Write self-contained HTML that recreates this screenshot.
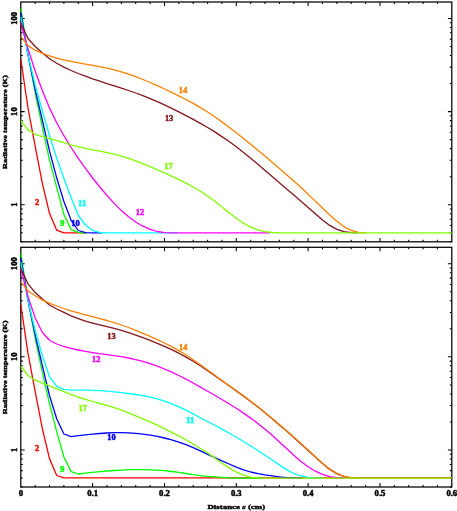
<!DOCTYPE html>
<html><head><meta charset="utf-8"><title>Radiative temperature</title>
<style>html,body{margin:0;padding:0;background:#fff;}svg{display:block;}text{font-family:"Liberation Serif",serif;font-weight:bold;}</style></head><body>
<svg width="457" height="511" viewBox="0 0 457 511">
<rect width="457" height="511" fill="#fff"/>
<defs><clipPath id="c1"><rect x="20.18" y="1.38" width="432.25" height="241.05"/></clipPath><clipPath id="c2"><rect x="20.18" y="246.68" width="432.25" height="240.95"/></clipPath></defs>
<rect x="20.8" y="2.0" width="431.0" height="239.8" fill="none" stroke="#000" stroke-width="1.25"/>
<rect x="20.8" y="247.3" width="431.0" height="239.7" fill="none" stroke="#000" stroke-width="1.25"/>
<path d="M35.2 241.8 v-2.0 M35.2 2.0 v2.0 M49.5 241.8 v-2.0 M49.5 2.0 v2.0 M63.9 241.8 v-2.0 M63.9 2.0 v2.0 M78.3 241.8 v-2.0 M78.3 2.0 v2.0 M92.6 241.8 v-3.9 M92.6 2.0 v3.9 M107.0 241.8 v-2.0 M107.0 2.0 v2.0 M121.4 241.8 v-2.0 M121.4 2.0 v2.0 M135.7 241.8 v-2.0 M135.7 2.0 v2.0 M150.1 241.8 v-2.0 M150.1 2.0 v2.0 M164.5 241.8 v-3.9 M164.5 2.0 v3.9 M178.8 241.8 v-2.0 M178.8 2.0 v2.0 M193.2 241.8 v-2.0 M193.2 2.0 v2.0 M207.6 241.8 v-2.0 M207.6 2.0 v2.0 M221.9 241.8 v-2.0 M221.9 2.0 v2.0 M236.3 241.8 v-3.9 M236.3 2.0 v3.9 M250.7 241.8 v-2.0 M250.7 2.0 v2.0 M265.0 241.8 v-2.0 M265.0 2.0 v2.0 M279.4 241.8 v-2.0 M279.4 2.0 v2.0 M293.8 241.8 v-2.0 M293.8 2.0 v2.0 M308.1 241.8 v-3.9 M308.1 2.0 v3.9 M322.5 241.8 v-2.0 M322.5 2.0 v2.0 M336.9 241.8 v-2.0 M336.9 2.0 v2.0 M351.2 241.8 v-2.0 M351.2 2.0 v2.0 M365.6 241.8 v-2.0 M365.6 2.0 v2.0 M380.0 241.8 v-3.9 M380.0 2.0 v3.9 M394.3 241.8 v-2.0 M394.3 2.0 v2.0 M408.7 241.8 v-2.0 M408.7 2.0 v2.0 M423.1 241.8 v-2.0 M423.1 2.0 v2.0 M437.4 241.8 v-2.0 M437.4 2.0 v2.0 M20.8 241.8 h2.0 M451.8 241.8 h-2.0 M20.8 232.8 h2.0 M451.8 232.8 h-2.0 M20.8 225.4 h2.0 M451.8 225.4 h-2.0 M20.8 219.2 h2.0 M451.8 219.2 h-2.0 M20.8 213.8 h2.0 M451.8 213.8 h-2.0 M20.8 209.0 h2.0 M451.8 209.0 h-2.0 M20.8 204.7 h3.9 M451.8 204.7 h-3.9 M20.8 176.7 h2.0 M451.8 176.7 h-2.0 M20.8 160.3 h2.0 M451.8 160.3 h-2.0 M20.8 148.6 h2.0 M451.8 148.6 h-2.0 M20.8 139.6 h2.0 M451.8 139.6 h-2.0 M20.8 132.2 h2.0 M451.8 132.2 h-2.0 M20.8 126.0 h2.0 M451.8 126.0 h-2.0 M20.8 120.6 h2.0 M451.8 120.6 h-2.0 M20.8 115.8 h2.0 M451.8 115.8 h-2.0 M20.8 111.6 h3.9 M451.8 111.6 h-3.9 M20.8 83.5 h2.0 M451.8 83.5 h-2.0 M20.8 67.1 h2.0 M451.8 67.1 h-2.0 M20.8 55.5 h2.0 M451.8 55.5 h-2.0 M20.8 46.4 h2.0 M451.8 46.4 h-2.0 M20.8 39.1 h2.0 M451.8 39.1 h-2.0 M20.8 32.8 h2.0 M451.8 32.8 h-2.0 M20.8 27.4 h2.0 M451.8 27.4 h-2.0 M20.8 22.7 h2.0 M451.8 22.7 h-2.0 M20.8 18.4 h3.9 M451.8 18.4 h-3.9 M35.2 487.0 v-2.0 M35.2 247.3 v2.0 M49.5 487.0 v-2.0 M49.5 247.3 v2.0 M63.9 487.0 v-2.0 M63.9 247.3 v2.0 M78.3 487.0 v-2.0 M78.3 247.3 v2.0 M92.6 487.0 v-3.9 M92.6 247.3 v3.9 M107.0 487.0 v-2.0 M107.0 247.3 v2.0 M121.4 487.0 v-2.0 M121.4 247.3 v2.0 M135.7 487.0 v-2.0 M135.7 247.3 v2.0 M150.1 487.0 v-2.0 M150.1 247.3 v2.0 M164.5 487.0 v-3.9 M164.5 247.3 v3.9 M178.8 487.0 v-2.0 M178.8 247.3 v2.0 M193.2 487.0 v-2.0 M193.2 247.3 v2.0 M207.6 487.0 v-2.0 M207.6 247.3 v2.0 M221.9 487.0 v-2.0 M221.9 247.3 v2.0 M236.3 487.0 v-3.9 M236.3 247.3 v3.9 M250.7 487.0 v-2.0 M250.7 247.3 v2.0 M265.0 487.0 v-2.0 M265.0 247.3 v2.0 M279.4 487.0 v-2.0 M279.4 247.3 v2.0 M293.8 487.0 v-2.0 M293.8 247.3 v2.0 M308.1 487.0 v-3.9 M308.1 247.3 v3.9 M322.5 487.0 v-2.0 M322.5 247.3 v2.0 M336.9 487.0 v-2.0 M336.9 247.3 v2.0 M351.2 487.0 v-2.0 M351.2 247.3 v2.0 M365.6 487.0 v-2.0 M365.6 247.3 v2.0 M380.0 487.0 v-3.9 M380.0 247.3 v3.9 M394.3 487.0 v-2.0 M394.3 247.3 v2.0 M408.7 487.0 v-2.0 M408.7 247.3 v2.0 M423.1 487.0 v-2.0 M423.1 247.3 v2.0 M437.4 487.0 v-2.0 M437.4 247.3 v2.0 M20.8 487.0 h2.0 M451.8 487.0 h-2.0 M20.8 478.0 h2.0 M451.8 478.0 h-2.0 M20.8 470.6 h2.0 M451.8 470.6 h-2.0 M20.8 464.4 h2.0 M451.8 464.4 h-2.0 M20.8 459.0 h2.0 M451.8 459.0 h-2.0 M20.8 454.2 h2.0 M451.8 454.2 h-2.0 M20.8 449.9 h3.9 M451.8 449.9 h-3.9 M20.8 421.9 h2.0 M451.8 421.9 h-2.0 M20.8 405.5 h2.0 M451.8 405.5 h-2.0 M20.8 393.9 h2.0 M451.8 393.9 h-2.0 M20.8 384.9 h2.0 M451.8 384.9 h-2.0 M20.8 377.5 h2.0 M451.8 377.5 h-2.0 M20.8 371.2 h2.0 M451.8 371.2 h-2.0 M20.8 365.8 h2.0 M451.8 365.8 h-2.0 M20.8 361.1 h2.0 M451.8 361.1 h-2.0 M20.8 356.8 h3.9 M451.8 356.8 h-3.9 M20.8 328.8 h2.0 M451.8 328.8 h-2.0 M20.8 312.4 h2.0 M451.8 312.4 h-2.0 M20.8 300.8 h2.0 M451.8 300.8 h-2.0 M20.8 291.7 h2.0 M451.8 291.7 h-2.0 M20.8 284.4 h2.0 M451.8 284.4 h-2.0 M20.8 278.1 h2.0 M451.8 278.1 h-2.0 M20.8 272.7 h2.0 M451.8 272.7 h-2.0 M20.8 268.0 h2.0 M451.8 268.0 h-2.0 M20.8 263.7 h3.9 M451.8 263.7 h-3.9" stroke="#000" stroke-width="1.05" fill="none"/>
<g clip-path="url(#c1)" fill="none" stroke-width="1.30" stroke-linejoin="round">
<path d="M20.8 59.3 L28.0 108.0 L35.2 146.3 L42.4 183.6 L49.5 213.3 L56.7 230.2 L63.9 232.8 L71.1 232.9 L78.3 232.8 L85.5 232.9 L80.0 232.9" stroke="#ff0000"/>
<path d="M20.8 8.3 L28.0 54.0 L35.2 93.0 L42.4 127.4 L49.5 159.8 L56.7 187.3 L63.9 214.5 L71.1 229.6 L78.3 232.3 L85.5 232.9 L87.0 232.9" stroke="#00ff00"/>
<path d="M20.8 12.3 L28.0 55.0 L35.2 89.6 L42.4 120.6 L49.5 150.8 L56.7 177.8 L63.9 201.5 L71.1 220.3 L78.3 230.5 L85.5 232.6 L92.6 232.9 L102.0 232.9" stroke="#0000ff"/>
<path d="M20.8 16.8 L28.0 55.0 L35.2 85.0 L42.4 111.5 L49.5 135.5 L56.7 158.0 L63.9 178.5 L71.1 197.5 L78.3 215.5 L85.5 225.0 L92.6 230.4 L99.8 232.5 L107.0 232.9 L178.0 232.9" stroke="#00ffff"/>
<path d="M20.8 23.0 L28.0 48.6 L35.2 71.2 L42.4 90.8 L49.5 107.9 L56.7 122.7 L63.9 135.7 L71.1 147.5 L78.3 158.3 L85.5 168.4 L92.6 178.0 L99.8 187.0 L107.0 195.5 L114.2 203.4 L121.4 210.6 L128.6 216.8 L135.7 222.0 L142.9 226.2 L150.1 229.4 L157.3 231.5 L164.5 232.6 L171.7 232.9 L270.0 232.9" stroke="#ff00ff"/>
<path d="M20.8 23.0 L28.0 38.5 L35.2 46.5 L42.4 53.0 L49.5 58.7 L56.7 63.3 L63.9 67.1 L71.1 70.5 L78.3 73.5 L85.5 76.2 L92.6 78.8 L99.8 81.2 L107.0 83.6 L114.2 85.8 L121.4 88.1 L128.6 90.5 L135.7 93.0 L142.9 95.7 L150.1 98.6 L157.3 101.7 L164.5 104.9 L171.7 108.4 L178.8 111.9 L186.0 115.6 L193.2 119.4 L200.4 123.4 L207.6 127.5 L214.8 131.9 L221.9 136.6 L229.1 141.5 L236.3 146.8 L243.5 152.4 L250.7 158.2 L257.9 164.2 L265.0 170.4 L272.2 176.6 L279.4 182.8 L286.6 189.0 L293.8 195.1 L301.0 201.2 L308.1 207.4 L315.3 213.7 L322.5 220.0 L329.7 225.4 L336.9 229.4 L344.1 231.7 L351.2 232.7 L358.4 232.9" stroke="#85151d"/>
<path d="M20.8 36.3 L28.0 45.6 L35.2 50.2 L42.4 53.3 L49.5 55.8 L56.7 58.1 L63.9 59.9 L71.1 61.4 L78.3 62.8 L85.5 64.1 L92.6 65.3 L99.8 66.6 L107.0 68.1 L114.2 69.8 L121.4 71.8 L128.6 74.1 L135.7 76.7 L142.9 79.5 L150.1 82.5 L157.3 85.7 L164.5 89.0 L171.7 92.3 L178.8 95.8 L186.0 99.5 L193.2 103.4 L200.4 107.6 L207.6 112.0 L214.8 116.8 L221.9 121.9 L229.1 127.2 L236.3 132.8 L243.5 138.5 L250.7 144.3 L257.9 150.2 L265.0 156.1 L272.2 162.2 L279.4 168.4 L286.6 174.7 L293.8 181.1 L301.0 187.6 L308.1 194.3 L315.3 201.1 L322.5 208.0 L329.7 214.9 L336.9 221.3 L344.1 226.8 L351.2 230.4 L358.4 232.3 L365.6 232.9" stroke="#ff8000"/>
<path d="M20.8 120.4 L28.0 129.9 L35.2 134.3 L42.4 136.7 L49.5 138.6 L56.7 140.6 L63.9 142.7 L71.1 144.8 L78.3 146.7 L85.5 148.4 L92.6 149.8 L99.8 151.2 L107.0 152.6 L114.2 154.2 L121.4 156.1 L128.6 158.3 L135.7 160.9 L142.9 163.7 L150.1 166.7 L157.3 169.8 L164.5 172.9 L171.7 176.2 L178.8 179.6 L186.0 183.1 L193.2 187.0 L200.4 191.2 L207.6 196.0 L214.8 201.3 L221.9 206.9 L229.1 212.7 L236.3 218.3 L243.5 223.2 L250.7 227.1 L257.9 229.9 L265.0 231.6 L272.2 232.5 L279.4 232.9 L451.8 232.9" stroke="#80ff00"/>
</g>
<g clip-path="url(#c2)" fill="none" stroke-width="1.30" stroke-linejoin="round">
<path d="M20.8 304.6 L28.0 353.3 L35.2 391.6 L42.4 428.9 L49.5 458.6 L56.7 475.5 L63.9 477.9 L451.8 477.9" stroke="#ff0000"/>
<path d="M20.8 253.4 L28.0 299.3 L35.2 338.3 L42.4 372.7 L49.5 403.5 L56.7 431.6 L63.9 457.0 L71.1 471.6 L78.3 474.0 L85.5 473.2 L92.6 472.4 L99.8 471.7 L107.0 471.0 L114.2 470.5 L121.4 470.1 L128.6 469.7 L135.7 469.6 L142.9 469.6 L150.1 469.8 L157.3 470.1 L164.5 470.7 L171.7 471.5 L178.8 472.4 L186.0 473.5 L193.2 474.6 L200.4 475.6 L207.6 476.3 L214.8 476.9 L221.9 477.4 L229.1 477.9 L236.3 478.1 L243.5 478.2 L262.0 478.2" stroke="#00ff00"/>
<path d="M20.8 257.6 L28.0 300.3 L35.2 334.9 L42.4 365.9 L49.5 395.5 L56.7 418.8 L63.9 434.0 L71.1 436.7 L78.3 435.6 L85.5 434.8 L92.6 434.1 L99.8 433.5 L107.0 433.0 L114.2 432.7 L121.4 432.6 L128.6 432.8 L135.7 433.4 L142.9 434.1 L150.1 435.1 L157.3 436.4 L164.5 438.0 L171.7 439.9 L178.8 442.1 L186.0 444.6 L193.2 447.6 L200.4 450.9 L207.6 454.4 L214.8 457.6 L221.9 460.8 L229.1 464.0 L236.3 467.1 L243.5 469.9 L250.7 472.0 L257.9 473.6 L265.0 474.8 L272.2 475.8 L279.4 476.9 L286.6 477.7 L293.8 478.1 L301.0 478.2" stroke="#0000ff"/>
<path d="M20.8 262.0 L28.0 300.5 L35.2 330.5 L42.4 356.0 L49.5 376.8 L56.7 386.4 L63.9 389.4 L71.1 390.2 L78.3 390.2 L85.5 390.2 L92.6 390.4 L99.8 390.7 L107.0 391.2 L114.2 391.8 L121.4 392.6 L128.6 393.5 L135.7 394.5 L142.9 395.7 L150.1 397.1 L157.3 398.9 L164.5 401.1 L171.7 403.8 L178.8 406.8 L186.0 410.2 L193.2 413.9 L200.4 417.7 L207.6 421.5 L214.8 425.3 L221.9 429.1 L229.1 433.0 L236.3 437.2 L243.5 441.5 L250.7 446.0 L257.9 450.5 L265.0 455.2 L272.2 460.0 L279.4 464.9 L286.6 469.6 L293.8 473.5 L301.0 476.0 L308.1 477.5 L315.3 478.1 L322.5 478.2" stroke="#00ffff"/>
<path d="M20.8 268.5 L28.0 296.6 L35.2 318.0 L42.4 332.5 L49.5 340.2 L56.7 344.0 L63.9 346.5 L71.1 348.4 L78.3 350.0 L85.5 351.4 L92.6 352.6 L99.8 353.7 L107.0 354.6 L114.2 355.6 L121.4 356.6 L128.6 358.0 L135.7 359.6 L142.9 361.4 L150.1 363.6 L157.3 366.2 L164.5 369.0 L171.7 372.2 L178.8 375.5 L186.0 379.1 L193.2 383.0 L200.4 387.1 L207.6 391.2 L214.8 395.3 L221.9 399.5 L229.1 403.8 L236.3 408.3 L243.5 413.1 L250.7 418.1 L257.9 423.4 L265.0 429.2 L272.2 435.3 L279.4 441.9 L286.6 448.6 L293.8 455.2 L301.0 461.4 L308.1 466.8 L315.3 471.2 L322.5 474.4 L329.7 476.6 L336.9 477.7 L344.1 478.2" stroke="#ff00ff"/>
<path d="M20.8 268.6 L28.0 283.9 L35.2 292.6 L42.4 299.0 L49.5 305.0 L56.7 309.0 L63.9 312.4 L71.1 315.8 L78.3 318.7 L85.5 321.2 L92.6 323.1 L99.8 324.9 L107.0 326.6 L114.2 328.4 L121.4 330.4 L128.6 332.6 L135.7 335.1 L142.9 337.7 L150.1 340.4 L157.3 343.3 L164.5 346.4 L171.7 349.7 L178.8 353.2 L186.0 357.1 L193.2 361.3 L200.4 365.8 L207.6 370.6 L214.8 375.6 L221.9 380.7 L229.1 385.8 L236.3 390.9 L243.5 396.1 L250.7 401.5 L257.9 407.0 L265.0 412.8 L272.2 418.8 L279.4 424.9 L286.6 431.1 L293.8 437.4 L301.0 443.9 L308.1 450.5 L315.3 457.1 L322.5 463.6 L329.7 469.4 L336.9 473.8 L344.1 476.5 L351.2 477.8 L358.4 478.2" stroke="#85151d"/>
<path d="M20.8 281.7 L28.0 291.0 L35.2 295.8 L42.4 300.1 L49.5 303.2 L56.7 306.0 L63.9 308.5 L71.1 310.8 L78.3 312.9 L85.5 314.9 L92.6 316.7 L99.8 318.6 L107.0 320.5 L114.2 322.7 L121.4 325.0 L128.6 327.5 L135.7 330.3 L142.9 333.3 L150.1 336.3 L157.3 339.6 L164.5 343.0 L171.7 346.6 L178.8 350.6 L186.0 355.0 L193.2 359.8 L200.4 364.8 L207.6 370.0 L214.8 375.3 L221.9 380.5 L229.1 385.6 L236.3 390.7 L243.5 395.9 L250.7 401.2 L257.9 406.7 L265.0 412.5 L272.2 418.5 L279.4 424.5 L286.6 430.7 L293.8 437.0 L301.0 443.5 L308.1 450.1 L315.3 456.7 L322.5 463.2 L329.7 469.0 L336.9 473.4 L344.1 476.3 L351.2 477.7 L358.4 478.2" stroke="#ff8000"/>
<path d="M20.8 365.8 L28.0 375.5 L35.2 380.2 L42.4 383.2 L49.5 385.9 L56.7 388.8 L63.9 391.7 L71.1 394.6 L78.3 397.1 L85.5 399.4 L92.6 401.5 L99.8 403.5 L107.0 405.4 L114.2 407.7 L121.4 410.2 L128.6 412.9 L135.7 415.8 L142.9 418.8 L150.1 421.9 L157.3 425.2 L164.5 428.7 L171.7 432.3 L178.8 435.9 L186.0 439.8 L193.2 444.0 L200.4 448.5 L207.6 452.9 L214.8 458.1 L221.9 463.3 L229.1 467.9 L236.3 472.1 L243.5 475.1 L250.7 477.1 L257.9 477.9 L265.0 478.2 L451.8 478.2" stroke="#80ff00"/>
</g>
<text x="0" y="0" font-size="7.3" text-anchor="middle" textLength="4.3" lengthAdjust="spacingAndGlyphs" transform="translate(16.6 204.7) rotate(-90)" stroke="#000" stroke-width="0.42">1</text>
<text x="0" y="0" font-size="7.3" text-anchor="middle" textLength="8.6" lengthAdjust="spacingAndGlyphs" transform="translate(16.6 111.6) rotate(-90)" stroke="#000" stroke-width="0.42">10</text>
<text x="0" y="0" font-size="7.3" text-anchor="middle" textLength="12.9" lengthAdjust="spacingAndGlyphs" transform="translate(16.6 18.4) rotate(-90)" stroke="#000" stroke-width="0.42">100</text>
<text x="0" y="0" font-size="7.3" text-anchor="middle" textLength="4.3" lengthAdjust="spacingAndGlyphs" transform="translate(16.6 449.9) rotate(-90)" stroke="#000" stroke-width="0.42">1</text>
<text x="0" y="0" font-size="7.3" text-anchor="middle" textLength="8.6" lengthAdjust="spacingAndGlyphs" transform="translate(16.6 356.8) rotate(-90)" stroke="#000" stroke-width="0.42">10</text>
<text x="0" y="0" font-size="7.3" text-anchor="middle" textLength="12.9" lengthAdjust="spacingAndGlyphs" transform="translate(16.6 263.7) rotate(-90)" stroke="#000" stroke-width="0.42">100</text>
<text x="20.8" y="495.9" font-size="7.3" text-anchor="middle" textLength="4.3" lengthAdjust="spacingAndGlyphs" stroke="#000" stroke-width="0.42">0</text>
<text x="92.6" y="495.9" font-size="7.3" text-anchor="middle" textLength="10.8" lengthAdjust="spacingAndGlyphs" stroke="#000" stroke-width="0.42">0.1</text>
<text x="164.5" y="495.9" font-size="7.3" text-anchor="middle" textLength="10.8" lengthAdjust="spacingAndGlyphs" stroke="#000" stroke-width="0.42">0.2</text>
<text x="236.3" y="495.9" font-size="7.3" text-anchor="middle" textLength="10.8" lengthAdjust="spacingAndGlyphs" stroke="#000" stroke-width="0.42">0.3</text>
<text x="308.1" y="495.9" font-size="7.3" text-anchor="middle" textLength="10.8" lengthAdjust="spacingAndGlyphs" stroke="#000" stroke-width="0.42">0.4</text>
<text x="380.0" y="495.9" font-size="7.3" text-anchor="middle" textLength="10.8" lengthAdjust="spacingAndGlyphs" stroke="#000" stroke-width="0.42">0.5</text>
<text x="451.8" y="495.9" font-size="7.3" text-anchor="middle" textLength="10.8" lengthAdjust="spacingAndGlyphs" stroke="#000" stroke-width="0.42">0.6</text>
<text x="236.3" y="509.4" font-size="7.0" text-anchor="middle" textLength="57.7" lengthAdjust="spacingAndGlyphs" stroke="#000" stroke-width="0.42">Distance <tspan font-style="italic">s</tspan> (cm)</text>
<text x="0" y="0" font-size="7.0" text-anchor="middle" textLength="93.6" lengthAdjust="spacingAndGlyphs" transform="translate(6.7 122.1) rotate(-90)" stroke="#000" stroke-width="0.42">Radiative temperature (K)</text>
<text x="0" y="0" font-size="7.0" text-anchor="middle" textLength="93.6" lengthAdjust="spacingAndGlyphs" transform="translate(6.7 367.4) rotate(-90)" stroke="#000" stroke-width="0.42">Radiative temperature (K)</text>
<text x="37.2" y="205.4" font-size="7.3" text-anchor="middle" textLength="4.2" lengthAdjust="spacingAndGlyphs" fill="#ff0000" stroke="#ff0000" stroke-width="0.42">2</text>
<text x="62.4" y="226.1" font-size="7.3" text-anchor="middle" textLength="4.2" lengthAdjust="spacingAndGlyphs" fill="#00ff00" stroke="#00ff00" stroke-width="0.42">9</text>
<text x="75.5" y="226.1" font-size="7.3" text-anchor="middle" textLength="8.4" lengthAdjust="spacingAndGlyphs" fill="#0000ff" stroke="#0000ff" stroke-width="0.42">10</text>
<text x="82.3" y="205.8" font-size="7.3" text-anchor="middle" textLength="8.4" lengthAdjust="spacingAndGlyphs" fill="#00ffff" stroke="#00ffff" stroke-width="0.42">11</text>
<text x="140.0" y="214.7" font-size="7.3" text-anchor="middle" textLength="8.4" lengthAdjust="spacingAndGlyphs" fill="#ff00ff" stroke="#ff00ff" stroke-width="0.42">12</text>
<text x="169.1" y="121.3" font-size="7.3" text-anchor="middle" textLength="8.4" lengthAdjust="spacingAndGlyphs" fill="#85151d" stroke="#85151d" stroke-width="0.42">13</text>
<text x="183.0" y="93.1" font-size="7.3" text-anchor="middle" textLength="8.4" lengthAdjust="spacingAndGlyphs" fill="#ff8000" stroke="#ff8000" stroke-width="0.42">14</text>
<text x="168.5" y="168.6" font-size="7.3" text-anchor="middle" textLength="8.4" lengthAdjust="spacingAndGlyphs" fill="#80ff00" stroke="#80ff00" stroke-width="0.42">17</text>
<text x="37.2" y="450.9" font-size="7.3" text-anchor="middle" textLength="4.2" lengthAdjust="spacingAndGlyphs" fill="#ff0000" stroke="#ff0000" stroke-width="0.42">2</text>
<text x="62.3" y="471.7" font-size="7.3" text-anchor="middle" textLength="4.2" lengthAdjust="spacingAndGlyphs" fill="#00ff00" stroke="#00ff00" stroke-width="0.42">9</text>
<text x="111.4" y="440.3" font-size="7.3" text-anchor="middle" textLength="8.4" lengthAdjust="spacingAndGlyphs" fill="#0000ff" stroke="#0000ff" stroke-width="0.42">10</text>
<text x="190.2" y="422.8" font-size="7.3" text-anchor="middle" textLength="8.4" lengthAdjust="spacingAndGlyphs" fill="#00ffff" stroke="#00ffff" stroke-width="0.42">11</text>
<text x="96.3" y="362.3" font-size="7.3" text-anchor="middle" textLength="8.4" lengthAdjust="spacingAndGlyphs" fill="#ff00ff" stroke="#ff00ff" stroke-width="0.42">12</text>
<text x="111.4" y="338.8" font-size="7.3" text-anchor="middle" textLength="8.4" lengthAdjust="spacingAndGlyphs" fill="#85151d" stroke="#85151d" stroke-width="0.42">13</text>
<text x="183.2" y="350.3" font-size="7.3" text-anchor="middle" textLength="8.4" lengthAdjust="spacingAndGlyphs" fill="#ff8000" stroke="#ff8000" stroke-width="0.42">14</text>
<text x="82.7" y="411.0" font-size="7.3" text-anchor="middle" textLength="8.4" lengthAdjust="spacingAndGlyphs" fill="#80ff00" stroke="#80ff00" stroke-width="0.42">17</text>
</svg></body></html>
